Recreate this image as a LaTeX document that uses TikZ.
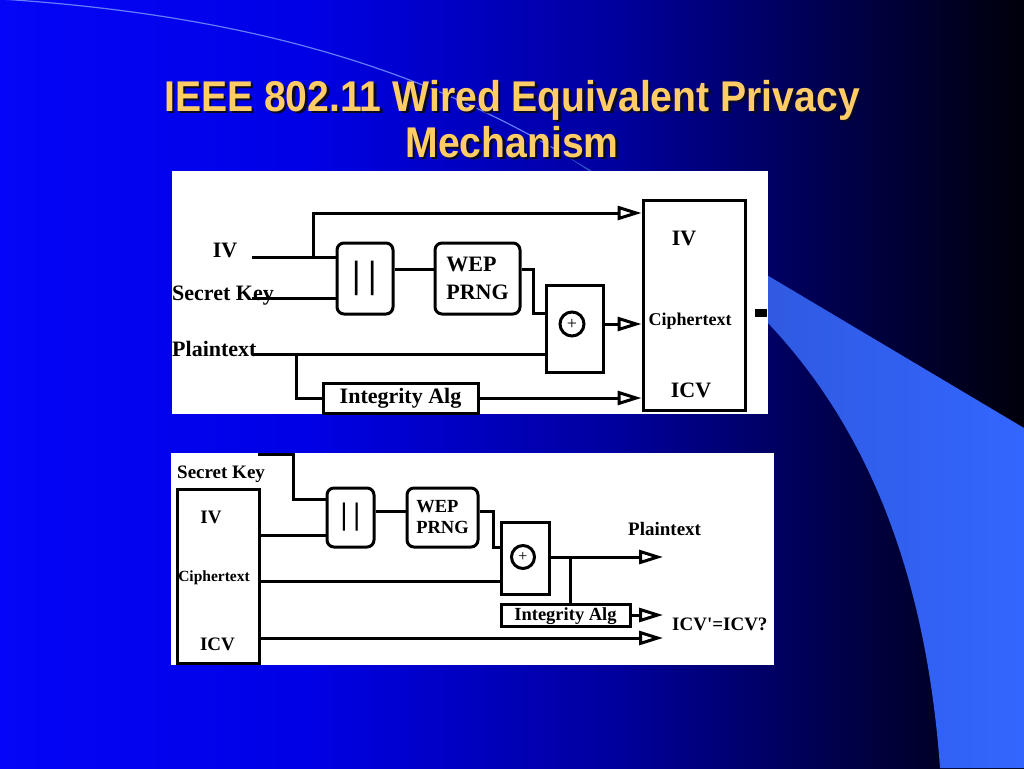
\documentclass[tikz,border=0pt]{standalone}
\usepackage{fontspec}
\setmainfont{Liberation Serif}
\newfontfamily\titlefont[FakeStretch=0.91]{Liberation Sans}
\usetikzlibrary{arrows.meta,calc}
\definecolor{slidetitle}{RGB}{255,204,102}
\definecolor{titleshadow}{RGB}{10,10,40}
\definecolor{swoosh}{RGB}{51,102,255}
\definecolor{swooshdark}{RGB}{45,80,200}
\definecolor{swooshline}{RGB}{100,125,250}
\pgfdeclarehorizontalshading{slidebg}{100bp}{rgb(0bp)=(0.02,0.02,0.97); rgb(25bp)=(0.02,0.02,0.97); rgb(40bp)=(0,0,0.9); rgb(55bp)=(0,0,0.62); rgb(65bp)=(0,0,0.32); rgb(75bp)=(0,0,0.04); rgb(100bp)=(0,0,0.04)}
\tikzset{
  wire/.style={line width=3pt},
  arr/.style={wire,-{Triangle[open,length=24pt,width=14pt]}},
  sbox/.style={draw,line width=3pt,inner sep=0pt},
  rbox/.style={sbox,rounded corners=7pt},
  xorc/.style={circle,draw,line width=3pt,inner sep=0pt,minimum size=#1},
  xorc/.default=24pt,
  lbl/.style={font=\bfseries\fontsize{#1}{#1}\selectfont,inner sep=0pt},
  lbl/.default=22,
  titletxt/.style={font=\titlefont\bfseries\fontsize{43}{45}\selectfont,anchor=base,inner sep=0pt}
}
\begin{document}
\begin{tikzpicture}[x=1pt,y=-1pt]
	\useasboundingbox (0,0) rectangle (1024,768);
	\shade[shading=slidebg] (0,0) rectangle (1024,768);
	\shade[left color=swooshdark,right color=swoosh] (560,152) -- (1024,428) -- (1024,768) -- (940,768) .. controls (925,560) and (860,420) .. (767,322) .. controls (700,250) and (620,190) .. (560,152) -- cycle;
	\draw[line width=1.2pt,swooshline] (0,-1) .. controls (250,15) and (420,70) .. (560,152);
	\fill[white] (172,171) rectangle (768,414);
	\fill[white] (171,453) rectangle (774,665);
	% title
	\node[titletxt,text=titleshadow] (title1s) at (514.5,113.5) {IEEE 802.11 Wired Equivalent Privacy};
	\node[titletxt,text=titleshadow] (title2s) at (514.5,159.5) {Mechanism};
	\node[titletxt,text=slidetitle] (title1) at (512,111) {IEEE 802.11 Wired Equivalent Privacy};
	\node[titletxt,text=slidetitle] (title2) at (512,157) {Mechanism};
	% sender
	\node[lbl,anchor=base] (ivlbl) at (225,257) {IV};
	\node[lbl,anchor=base west] (sklbl) at (172,300) {Secret Key};
	\node[lbl,anchor=base west] (ptlbl) at (172,356) {Plaintext};
	\node[rbox,minimum width=56pt,minimum height=71pt,font=\bfseries\fontsize{38}{38}\selectfont] (cat) at (365,278.5) {|\hspace{8pt}|};
	\node[rbox,align=left,minimum width=85pt,minimum height=71pt,font=\bfseries\fontsize{22}{28}\selectfont] (wep) at (477.5,278.5) {WEP\\PRNG};
	\node[sbox,minimum width=57pt,minimum height=87pt] (xor) at (574.5,328.5) {};
	\node[xorc,font=\fontsize{18}{18}\selectfont] (circ) at (572,324) {+};
	\node[sbox,lbl,minimum width=155pt,minimum height=30pt,text height=15pt,text depth=5pt] (integ) at (400.5,398) {Integrity Alg};
	\node[sbox,minimum width=102pt,minimum height=210pt] (out) at (694,305) {};
	\node[lbl,anchor=base] (outiv) at (684,245) {IV};
	\node[lbl=18,anchor=base] (outct) at (690,325) {Ciphertext};
	\node[lbl,anchor=base] (outicv) at (691,397) {ICV};
	\coordinate (ivin) at (252,257);
	\coordinate (ivsplit) at (313,257);
	\coordinate (skin) at (252,298);
	\coordinate (ptin) at (252,354);
	\coordinate (ptsplit) at (296,354);
	\draw[wire] (ivin) -- (ivin -| cat.west);
	\draw[arr] (ivsplit) |- (out.west |- 0,213);
	\draw[wire] (skin) -- (skin -| cat.west);
	\draw[wire] (cat.east |- 0,269) -- (wep.west |- 0,269);
	\draw[wire] (wep.east |- 0,269) -- ++(12,0) |- (xor.west |- 0,313);
	\draw[wire] (ptin) -- (ptin -| xor.west);
	\draw[wire] (ptsplit) |- (integ.west);
	\draw[arr] (circ -| xor.east) -- (circ -| out.west);
	\draw[arr] (integ.east) -- (integ.east -| out.west);
	\fill (755,309) rectangle (767,317);
	% receiver
	\node[lbl=19,anchor=base west] (sklbl2) at (177,478) {Secret Key};
	\node[sbox,minimum width=82pt,minimum height=174pt] (rx) at (218,576) {};
	\node[lbl=19,anchor=base] (rxiv) at (211,523) {IV};
	\node[lbl=15.5,anchor=base] (rxct) at (214,581) {Ciphertext};
	\node[lbl=19,anchor=base] (rxicv) at (217.5,650) {ICV};
	\node[rbox,minimum width=47pt,minimum height=59pt,font=\bfseries\fontsize{31}{31}\selectfont] (cat2) at (350.5,517.5) {|\hspace{6pt}|};
	\node[rbox,align=left,minimum width=71pt,minimum height=59pt,font=\bfseries\fontsize{18.5}{21}\selectfont] (wep2) at (442.5,517.5) {WEP\\PRNG};
	\node[sbox,minimum width=48pt,minimum height=72pt] (xor2) at (525,558) {};
	\node[xorc=23pt,font=\fontsize{16}{16}\selectfont] (circ2) at (523,557) {+};
	\node[sbox,lbl=18.5,minimum width=129pt,minimum height=22pt,text height=13pt,text depth=3pt] (integ2) at (565.5,615) {Integrity Alg};
	\node[lbl=19,anchor=base west] (ptlbl2) at (628,535) {Plaintext};
	\node[lbl=19,anchor=base west] (icvlbl) at (672,630) {ICV\textquotesingle=ICV?};
	\coordinate (sktop) at (258,454);
	\coordinate (ptend) at (663,557);
	\coordinate (ptsplit2) at (570,557);
	\draw[wire] (sktop) -- ++(35,0) |- (cat2.west |- 0,499);
	\draw[wire] (rx.east |- 0,535) -- (cat2.west |- 0,535);
	\draw[wire] (cat2.east |- 0,511) -- (wep2.west |- 0,511);
	\draw[wire] (wep2.east |- 0,511) -- ++(14,0) |- (xor2.west |- 0,547);
	\draw[wire] (rx.east |- 0,581) -- (xor2.west |- 0,581);
	\draw[arr] (circ2 -| xor2.east) -- (ptend);
	\draw[wire] (ptsplit2) -- (ptsplit2 |- integ2.north);
	\draw[arr] (integ2.east) -- (integ2.east -| ptend);
	\draw[arr] (rx.east |- 0,638) -- (ptend |- 0,638);
\end{tikzpicture}
\end{document}
